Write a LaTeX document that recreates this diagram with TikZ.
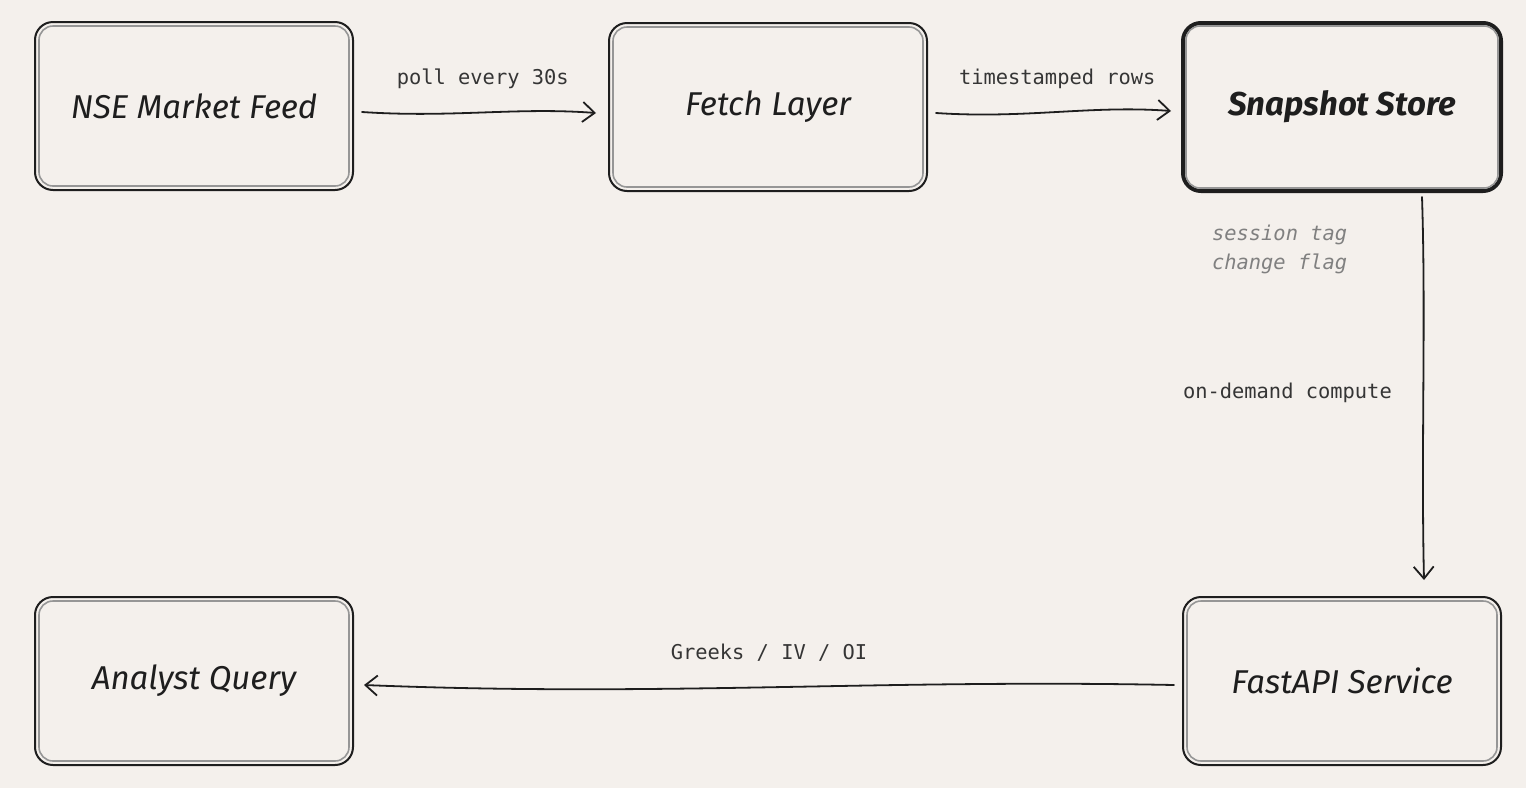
\documentclass[tikz,border=0pt]{standalone}
\usepackage{fontspec}
\setmainfont{Fira Sans}
\setmonofont{DejaVu Sans Mono}
\usetikzlibrary{arrows.meta}
\definecolor{paper}{RGB}{244,240,236}
\definecolor{ink}{RGB}{30,30,30}
\definecolor{pencil}{RGB}{150,150,150}
\definecolor{notegray}{RGB}{128,128,128}
\tikzset{
	box/.style={draw=ink, line width=1pt, rounded corners=9pt, minimum width=159pt, minimum height=84pt, text=ink, font=\itshape\fontsize{16.5}{20}\selectfont},
	innerline/.style={draw=pencil, line width=0.8pt, rounded corners=7pt},
	lbl/.style={text=ink!90, font=\ttfamily\fontsize{10.2}{12}\selectfont},
	flow/.style={->, draw=ink, line width=0.9pt},
}
\begin{document}
\begin{tikzpicture}[x=0.5pt, y=-0.5pt, line join=round, line cap=round, >={Straight Barb[length=6pt,width=10pt]}]
	\fill[paper] (0,0) rectangle (1526,788);
	\useasboundingbox (0,0) rectangle (1526,788);
	% boxes
	\node[box] (feed) at (194,106) {NSE Market Feed};
	\node[box] (fetch) at (768,107) {Fetch Layer};
	\node[box, line width=2pt, font=\bfseries\itshape\fontsize{16.5}{20}\selectfont] (store) at (1342,107) {Snapshot Store};
	\node[box] (api) at (1342,681) {FastAPI Service};
	\node[box] (query) at (194,681) {Analyst Query};
	\foreach \n in {feed,fetch,store,api,query}
		\draw[innerline] ([xshift=2.5pt,yshift=-2.5pt]\n.north west) rectangle ([xshift=-2.5pt,yshift=2.5pt]\n.south east);
	% connectors
	\draw[flow] ([xshift=4pt,yshift=-3pt]feed.east) .. controls +(90,6) and +(-80,-6) .. ([xshift=-6pt,yshift=-3pt]fetch.west)
		node[lbl, midway, above=8pt] (poll) {poll every 30s};
	\draw[flow] ([xshift=4pt,yshift=-3pt]fetch.east) .. controls +(90,6) and +(-80,-6) .. ([xshift=-5pt,yshift=-2pt]store.west)
		node[lbl, midway, above=8pt] (rows) {timestamped rows};
	\draw[flow] ([xshift=40pt,yshift=-2pt]store.south) .. controls +(4,120) and +(-3,-130) .. ([xshift=41pt,yshift=8pt]api.north)
		node[lbl, midway, left=12pt, yshift=-4pt] (compute) {on-demand compute};
	\draw[flow] ([xshift=-4pt,yshift=-2pt]api.west) .. controls +(-300,-6) and +(300,12) .. ([xshift=5pt,yshift=-2pt]query.east)
		node[lbl, midway, above=9pt] (greeks) {Greeks / IV / OI};
	% notes
	\node[lbl, text=notegray, font=\ttfamily\itshape\fontsize{10.2}{14.5}\selectfont, align=left, anchor=north west] (tags) at (1205,218) {session tag\\change flag};
\end{tikzpicture}
\end{document}
